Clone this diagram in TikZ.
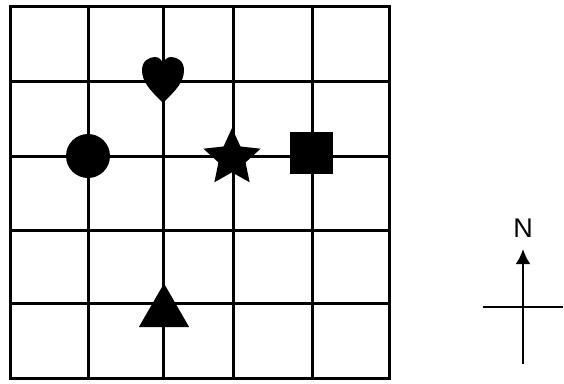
\documentclass[tikz,border=0pt]{standalone}
\usepackage{fontspec}
\setmainfont{Liberation Sans}
\usetikzlibrary{shapes.geometric,arrows.meta}
\begin{document}
\begin{tikzpicture}[x=1pt,y=-1pt,
  gridline/.style={line width=3pt,black},
  solid shape/.style={fill=black,draw=none,inner sep=0pt,outer sep=0pt}]
\useasboundingbox (0,0) rectangle (564,383);
% grid
\foreach \x in {10,88,163,233,312,389} \draw[gridline] (\x,6) -- (\x,378);
\foreach \y in {6,81,156,230,303,378} \draw[gridline] (10,\y) -- (389,\y);
\draw[gridline,line cap=rect] (10,6) rectangle (389,378);
% shapes
\node[solid shape,circle,minimum size=44pt] (circ) at (88,156) {};
\node[solid shape,star,star points=5,star point ratio=2.1,minimum size=60pt] (star) at (232,158) {};
\node[solid shape,rectangle,minimum width=43pt,minimum height=42pt] (sq) at (311.5,153) {};
\node[solid shape,regular polygon,regular polygon sides=3,minimum size=58pt,anchor=south] (tri) at (164,327) {};
\fill[black] (163,103) .. controls (150,90) and (142,82) .. (142,70)
  .. controls (142,61) and (149,57) .. (155,57)
  .. controls (159,57) and (162,60) .. (163,64)
  .. controls (164,60) and (167,57) .. (171,57)
  .. controls (177,57) and (184,61) .. (184,70)
  .. controls (184,82) and (176,90) .. (163,103) -- cycle;
\coordinate (heart) at (163,80);
% compass
\node[font=\fontsize{27}{27}\selectfont,inner sep=0pt] (N) at (523,228) {N};
\coordinate (s) at (523,364);
\coordinate (t) at (523,249);
\coordinate (w) at (483,307);
\coordinate (e) at (563,307);
\draw[line width=2.6pt,-{Latex[length=15pt,width=15pt]}] (s) -- (t);
\draw[line width=2.4pt] (w) -- (e);
\end{tikzpicture}
\end{document}
